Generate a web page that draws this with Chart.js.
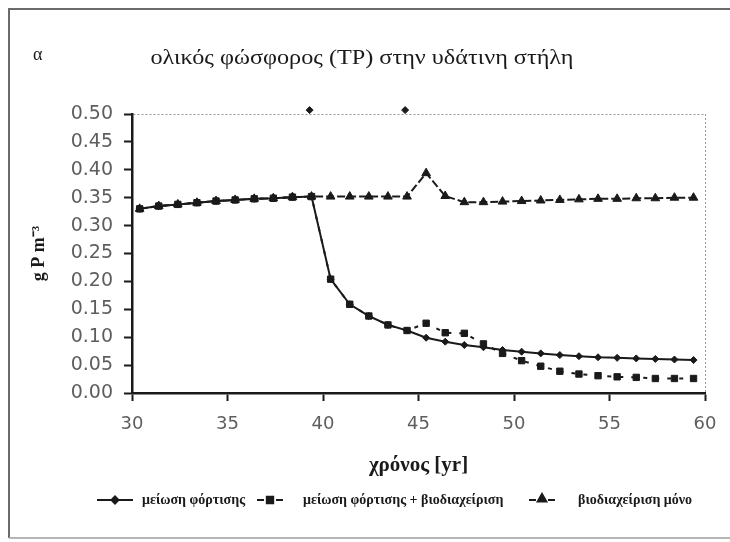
<!DOCTYPE html>
<html>
<head>
<meta charset="utf-8">
<script src="https://cdn.jsdelivr.net/npm/chart.js@4.4.1/dist/chart.umd.min.js"></script>
<style>
  html, body { margin: 0; background: #fff; overflow: hidden; }
  #wrap { width: 730px; height: 542px; }
  canvas { display: block; }
</style>
</head>
<body>
<div id="wrap"><canvas id="tp" width="730" height="542"></canvas></div>
<script>
// years of the simulation (x)
const years = [30.4, 31.4, 32.4, 33.4, 34.4, 35.4, 36.4, 37.4, 38.4, 39.4,
  40.4, 41.4, 42.4, 43.4, 44.4, 45.4, 46.4, 47.4, 48.4, 49.4,
  50.4, 51.4, 52.4, 53.4, 54.4, 55.4, 56.4, 57.4, 58.4, 59.4];

// μείωση φόρτισης
const loadCut = [0.330, 0.335, 0.338, 0.341, 0.344, 0.346, 0.348, 0.349, 0.351, 0.352,
  0.204, 0.159, 0.138, 0.122, 0.112, 0.099, 0.092, 0.086, 0.082, 0.077,
  0.074, 0.071, 0.068, 0.066, 0.064, 0.063, 0.062, 0.061, 0.060, 0.059];

// μείωση φόρτισης + βιοδιαχείριση
const loadCutBio = [0.330, 0.335, 0.338, 0.341, 0.344, 0.346, 0.348, 0.349, 0.351, 0.352,
  0.204, 0.159, 0.138, 0.122, 0.112, 0.125, 0.108, 0.107, 0.088, 0.071,
  0.058, 0.048, 0.039, 0.034, 0.031, 0.029, 0.028, 0.026, 0.026, 0.026];

// βιοδιαχείριση μόνο
const bioOnly = [0.330, 0.335, 0.338, 0.341, 0.344, 0.346, 0.348, 0.349, 0.351, 0.352,
  0.352, 0.352, 0.352, 0.352, 0.352, 0.394, 0.353, 0.342, 0.342, 0.343,
  0.344, 0.345, 0.346, 0.347, 0.348, 0.348, 0.349, 0.349, 0.350, 0.350];

// the two small marks on the top edge
const markYears = [39.3, 44.3];
const markLevel = [0.507, 0.507];

const legendNames = ["μείωση φόρτισης", "μείωση φόρτισης + βιοδιαχείριση", "βιοδιαχείριση μόνο"];
const xTicks = [30, 35, 40, 45, 50, 55, 60];
const yTicks = [0, 0.05, 0.1, 0.15, 0.2, 0.25, 0.3, 0.35, 0.4, 0.45, 0.5];

const ink = "#1a1a1a";
const pts = (ys) => years.map((x, i) => ({ x: x, y: ys[i] }));

// text squeezed/stretched sideways to a given width, the scan is a bit wide
const wideText = (ctx, text, cx, cy, width) => {
  const w = ctx.measureText(text).width;
  ctx.save();
  ctx.translate(cx, cy);
  ctx.scale(width / w, 1);
  ctx.textAlign = "center";
  ctx.fillText(text, 0, 0);
  ctx.restore();
};

const decor = {
  id: "decor",
  afterDraw(chart) {
    const ctx = chart.ctx;
    ctx.save();
    // outer frame (right side is off the picture)
    ctx.strokeStyle = "#6b6b6b";
    ctx.lineWidth = 2;
    ctx.beginPath();
    ctx.moveTo(760, 9); ctx.lineTo(9, 9); ctx.lineTo(9, 538); ctx.stroke();
    ctx.strokeStyle = "#b5b5b5";
    ctx.beginPath(); ctx.moveTo(9, 538); ctx.lineTo(760, 538); ctx.stroke();

    ctx.fillStyle = ink;
    ctx.textBaseline = "middle";
    ctx.font = "18px 'Liberation Serif'";
    ctx.textAlign = "left";
    ctx.fillText("α", 33, 55);

    ctx.font = "21px 'Liberation Serif'";
    wideText(ctx, "ολικός φώσφορος (TP) στην υδάτινη στήλη", 362, 58, 423);

    // legend
    const ly = 500;
    const H = Chart.helpers;
    ctx.strokeStyle = ink;
    ctx.lineWidth = 2;
    ctx.beginPath(); ctx.moveTo(97, ly); ctx.lineTo(133, ly); ctx.stroke();
    H.drawPoint(ctx, { pointStyle: "rectRot", radius: 3.5, borderWidth: 1 }, 115, ly);

    ctx.beginPath();
    ctx.moveTo(257, ly); ctx.lineTo(264, ly);
    ctx.moveTo(276, ly); ctx.lineTo(283, ly);
    ctx.stroke();
    H.drawPoint(ctx, { pointStyle: "rect", radius: 4.5, borderWidth: 1 }, 270, ly);

    ctx.beginPath();
    ctx.moveTo(529, ly); ctx.lineTo(536, ly);
    ctx.moveTo(548, ly); ctx.lineTo(555, ly);
    ctx.stroke();
    H.drawPoint(ctx, { pointStyle: "triangle", radius: 5, borderWidth: 1 }, 542, ly - 1);

    ctx.font = "bold 14px 'Liberation Serif'";
    ctx.textAlign = "left";
    ctx.fillText(legendNames[0], 142, ly);
    ctx.fillText(legendNames[1], 303, ly);
    ctx.fillText(legendNames[2], 578, ly);
    ctx.restore();
  },
};

const series = (label, ys, style, radius, dash) => ({
  label: label,
  data: pts(ys),
  showLine: true,
  borderColor: ink,
  backgroundColor: ink,
  borderWidth: 2,
  borderDash: dash,
  pointStyle: style,
  pointRadius: radius,
  pointBorderWidth: 1,
  pointBackgroundColor: ink,
  pointBorderColor: ink,
  tension: 0,
});

new Chart(document.getElementById("tp"), {
  type: "scatter",
  data: {
    datasets: [
      series(legendNames[1], loadCutBio, "rect", 4.5, [4, 8]),
      series(legendNames[2], bioOnly, "triangle", 5, [8, 3]),
      series(legendNames[0], loadCut, "rectRot", 3.5, []),
      {
        label: "marks",
        data: markYears.map((x, i) => ({ x: x, y: markLevel[i] })),
        showLine: false,
        pointStyle: "rectRot",
        pointRadius: 3.5,
        backgroundColor: ink,
        borderColor: ink,
        clip: false,
      },
    ],
  },
  plugins: [decor],
  options: {
    responsive: false,
    animation: false,
    layout: { padding: { left: 0, top: 114, right: 25, bottom: 0 } },
    plugins: { legend: { display: false }, tooltip: { enabled: false } },
    scales: {
      x: {
        type: "linear",
        min: 30,
        max: 60,
        afterBuildTicks: (s) => { s.ticks = xTicks.map((v) => ({ value: v })); },
        afterFit: (s) => { s.height = 149; },
        ticks: { font: { family: "DejaVu Sans", size: 18 }, color: "#5e5e5e", padding: 13 },
        grid: {
          drawOnChartArea: true,
          color: (c) => (c.tick && c.tick.value === 60 ? "#9a9a9a" : "transparent"),
          tickColor: ink,
          tickLength: 8,
          tickWidth: 2,
          lineWidth: 1,
        },
        border: { color: ink, width: 2.5, dash: [2, 2] },
        title: {
          display: true,
          text: "χρόνος [yr]",
          font: { family: "Liberation Serif", size: 21, weight: "bold" },
          color: ink,
          padding: { top: 0, bottom: 64 },
        },
      },
      y: {
        min: 0,
        max: 0.5,
        afterBuildTicks: (s) => { s.ticks = yTicks.map((v) => ({ value: v })); },
        afterFit: (s) => { s.width = 132; },
        ticks: {
          font: { family: "DejaVu Sans", size: 19 },
          color: "#5e5e5e",
          padding: 11,
          callback: (v) => Number(v).toFixed(2),
        },
        grid: {
          drawOnChartArea: true,
          color: (c) => (c.tick && Math.abs(c.tick.value - 0.5) < 1e-9 ? "#9a9a9a" : "transparent"),
          tickColor: ink,
          tickLength: 8,
          tickWidth: 2,
          lineWidth: 1,
        },
        border: { color: ink, width: 2.5, dash: [2, 2] },
        title: {
          display: true,
          text: "g P m⁻³",
          font: { family: "Liberation Serif", size: 18, weight: "bold" },
          color: ink,
          padding: { top: 29, bottom: 0 },
        },
      },
    },
  },
});
</script>
</body>
</html>
